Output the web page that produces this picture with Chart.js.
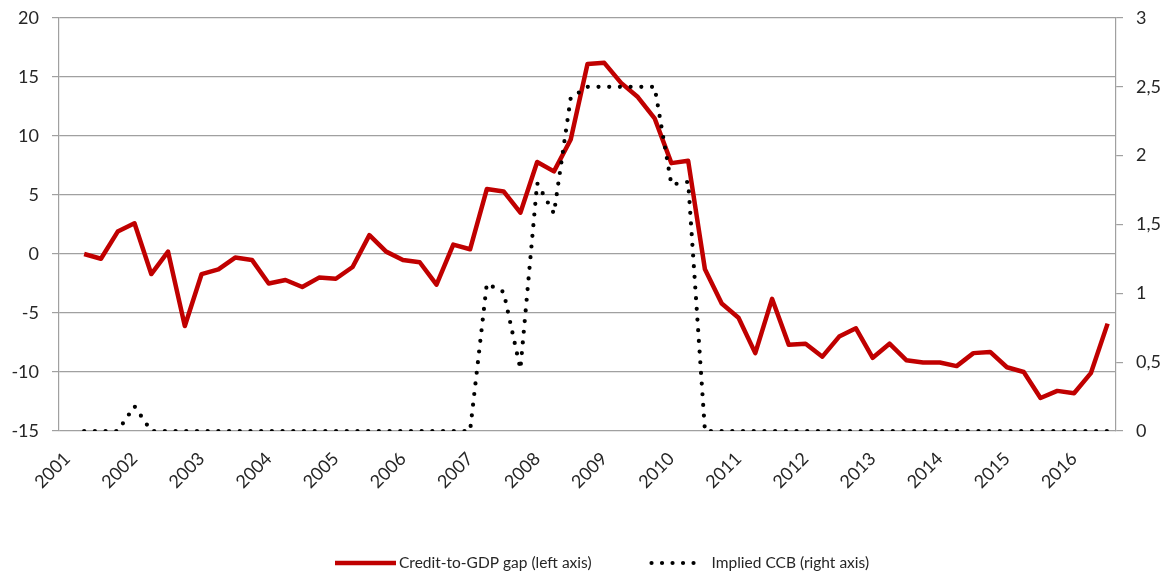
<!DOCTYPE html>
<html>
<head>
<meta charset="utf-8">
<script src="https://cdn.jsdelivr.net/npm/chart.js@4.4.1/dist/chart.umd.min.js"></script>
<style>
    html, body { margin: 0; padding: 0; background: #fff; }
    #contenedor { width: 1174px; height: 575px; }
</style>
</head>
<body>
<div id="contenedor"><canvas id="myChart"></canvas></div>
<script>
// años que se muestran en el eje x (una etiqueta cada 4 trimestres)
var anios = ['2001', '2002', '2003', '2004', '2005', '2006', '2007', '2008',
    '2009', '2010', '2011', '2012', '2013', '2014', '2015', '2016'];
var trimestres = ['T1', 'T2', 'T3', 'T4'];

// brecha crédito/PIB (eje izquierdo), 2001T1 .. 2016T3
var brechaCredito = [null,
    0.0, -0.4, 1.9, 2.6, -1.7, 0.2, -6.1, -1.7, -1.3, -0.3, -0.5,
    -2.5, -2.2, -2.8, -2.0, -2.1, -1.1, 1.6, 0.2, -0.5, -0.7,
    -2.6, 0.8, 0.4, 5.5, 5.3, 3.5, 7.8, 7.0, 9.7, 16.1,
    16.2, 14.5, 13.3, 11.5, 7.7, 7.9, -1.3, -4.2, -5.4, -8.4,
    -3.8, -7.7, -7.6, -8.7, -7.0, -6.3, -8.8, -7.6, -9.0, -9.2,
    -9.2, -9.5, -8.4, -8.3, -9.6, -10.0, -12.2, -11.6, -11.8, -10.1,
    -5.9];

// colchón anticíclico implícito (eje derecho)
var ccbImplicito = [null,
    0, 0, 0, 0.18, 0, 0, 0, 0, 0, 0, 0,
    0, 0, 0, 0, 0, 0, 0, 0, 0, 0,
    0, 0, 0, 1.07, 1.01, 0.45, 1.8, 1.58, 2.42, 2.5,
    2.5, 2.5, 2.5, 2.5, 1.79, 1.81, 0, 0, 0, 0,
    0, 0, 0, 0, 0, 0, 0, 0, 0, 0,
    0, 0, 0, 0, 0, 0, 0, 0, 0, 0,
    0];

var ticksIzq = { min: -15, max: 20, paso: 5 };
var ticksDer = { min: 0, max: 3, paso: 0.5 };

var categorias = [];
for (var a = 0; a < anios.length; a++) {
    for (var q = 0; q < trimestres.length; q++) {
        if (categorias.length < brechaCredito.length) {
            categorias.push(anios[a] + trimestres[q]);
        }
    }
}

var gris = '#a0a0a0';
var colorTexto = '#262626';
var fuente = 'Lato, "Open Sans", sans-serif';

var leyendaInferior = {
    id: 'leyendaInferior',
    afterDraw: function (chart) {
        var ctx = chart.ctx;
        var items = [chart.data.datasets[0], chart.data.datasets[1]];
        var muestras = [60, 58];
        var sep = 4, hueco = 58;
        var x = 335;
        var y = 563;
        ctx.save();
        ctx.font = '15.5px ' + fuente;
        for (var k = 0; k < items.length; k++) {
            var d = items[k];
            var punteada = !!d.borderDash;
            ctx.beginPath();
            ctx.strokeStyle = d.borderColor;
            ctx.lineWidth = d.borderWidth;
            ctx.setLineDash(punteada ? [0, 10.5] : []);
            ctx.lineCap = d.borderCapStyle || 'butt';
            ctx.moveTo(x + (punteada ? 2 : 0), y);
            ctx.lineTo(x + muestras[k] - (punteada ? 5 : -1), y);
            ctx.stroke();
            ctx.setLineDash([]);
            ctx.fillStyle = colorTexto;
            ctx.textBaseline = 'middle';
            ctx.textAlign = 'left';
            ctx.fillText(d.label, x + muestras[k] + sep, y);
            x += muestras[k] + sep + ctx.measureText(d.label).width + hueco;
        }
        ctx.restore();
    }
};

// el eje y reserva por defecto media etiqueta + padding arriba y abajo
function anchoFijo(ancho) {
    return function (scale) {
        scale.width = ancho;
        scale.paddingTop = 0;
        scale.paddingBottom = 0;
    };
}

var ctx = document.getElementById('myChart').getContext('2d');
var myChart = new Chart(ctx, {
    type: 'line',
    data: {
        labels: categorias,
        datasets: [{
            label: 'Credit-to-GDP gap (left axis)',
            data: brechaCredito,
            yAxisID: 'y',
            borderColor: '#c00000',
            borderWidth: 4.5,
            borderJoinStyle: 'round',
            pointRadius: 0,
            tension: 0,
            order: 1
        }, {
            label: 'Implied CCB (right axis)',
            data: ccbImplicito,
            yAxisID: 'y1',
            borderColor: '#000000',
            borderWidth: 4.2,
            borderDash: [0, 10.7],
            borderCapStyle: 'round',
            pointRadius: 0,
            tension: 0,
            order: 0
        }]
    },
    options: {
        responsive: true,
        maintainAspectRatio: false,
        animation: false,
        layout: { padding: { top: 18, bottom: 60, left: 0, right: 0 } },
        plugins: {
            legend: { display: false },
            tooltip: { enabled: false }
        },
        scales: {
            x: {
                offset: true,
                grid: { display: false },
                border: { display: false },
                ticks: {
                    autoSkip: false,
                    minRotation: 45,
                    maxRotation: 45,
                    padding: 9,
                    color: colorTexto,
                    font: { family: fuente, size: 18 },
                    callback: function (val, idx) {
                        return idx % 4 === 0 ? anios[idx / 4] : '';
                    }
                },
                afterFit: function (scale) { scale.height = 84; }
            },
            y: {
                position: 'left',
                min: ticksIzq.min,
                max: ticksIzq.max,
                ticks: {
                    stepSize: ticksIzq.paso,
                    padding: 13,
                    color: colorTexto,
                    font: { family: fuente, size: 18 }
                },
                grid: { color: gris, lineWidth: 1.2, tickLength: 7 },
                border: { color: gris, width: 1.2 },
                afterFit: anchoFijo(59)
            },
            y1: {
                position: 'right',
                min: ticksDer.min,
                max: ticksDer.max,
                ticks: {
                    stepSize: ticksDer.paso,
                    padding: 13,
                    color: colorTexto,
                    font: { family: fuente, size: 18 },
                    callback: function (v) { return String(v).replace('.', ','); }
                },
                grid: { drawOnChartArea: false, color: gris, lineWidth: 1.2, tickLength: 7 },
                border: { color: gris, width: 1.2 },
                afterFit: anchoFijo(58)
            }
        }
    },
    plugins: [leyendaInferior]
});
</script>
</body>
</html>
